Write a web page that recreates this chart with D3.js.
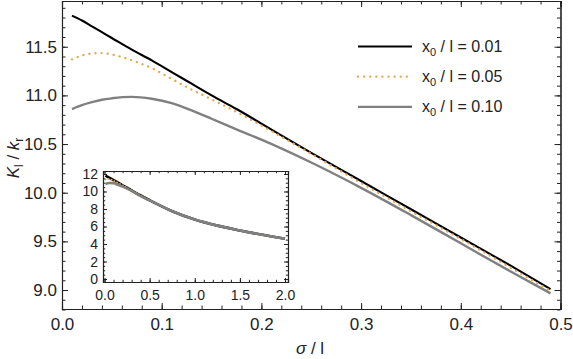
<!DOCTYPE html>
<html>
<head>
<meta charset="utf-8">
<script src="https://cdn.jsdelivr.net/npm/d3@7"></script>
<style>
  body { margin: 0; background: #fff; }
  text { font-family: "Liberation Sans", Arial, sans-serif; fill: #222; }
</style>
</head>
<body>
<script>
// main plot data (sigma / l)
const sigma = [0.01, 0.02, 0.03, 0.04, 0.05, 0.07, 0.09, 0.11, 0.13, 0.15, 0.175, 0.2, 0.25, 0.3, 0.35, 0.4, 0.45, 0.49]
const k001 = [11.82, 11.77, 11.71, 11.65, 11.59, 11.47, 11.36, 11.24, 11.12, 11.00, 10.86, 10.71, 10.41, 10.12, 9.83, 9.54, 9.25, 9.01]
const k005 = [11.37, 11.41, 11.43, 11.435, 11.42, 11.36, 11.28, 11.17, 11.06, 10.96, 10.83, 10.69, 10.40, 10.10, 9.81, 9.525, 9.23, 8.99]
const k010 = [10.86, 10.90, 10.93, 10.955, 10.97, 10.985, 10.965, 10.92, 10.845, 10.76, 10.65, 10.545, 10.31, 10.05, 9.77, 9.48, 9.19, 8.966]

// inset data
const insetSigma = [0.01, 0.05, 0.1, 0.15, 0.2, 0.3, 0.4, 0.5, 0.75, 1.0, 1.25, 1.5, 1.75, 2.0]
const inset001 = [11.82, 11.59, 11.30, 11.00, 10.71, 10.12, 9.54, 9.0, 7.75, 6.8, 6.1, 5.55, 5.05, 4.6]
const inset005 = [11.37, 11.42, 11.21, 10.96, 10.69, 10.10, 9.525, 9.0, 7.75, 6.8, 6.1, 5.55, 5.05, 4.6]
const inset010 = [10.86, 10.97, 10.95, 10.76, 10.55, 10.06, 9.48, 8.98, 7.75, 6.8, 6.1, 5.55, 5.05, 4.6]

const xTicks = [0.0, 0.1, 0.2, 0.3, 0.4, 0.5]
const yTicks = [9.0, 9.5, 10.0, 10.5, 11.0, 11.5]
const insetXTicks = [0.0, 0.5, 1.0, 1.5, 2.0]
const insetYTicks = [0, 2, 4, 6, 8, 10, 12]
const legendLabels = ['0.01', '0.05', '0.10']

const width = 573
const height = 359
const margin = ({ top: 1, right: 12.5, left: 62, bottom: 50 })

const svg = d3.select('body')
    .append('svg')
    .attr('width', width)
    .attr('height', height)

const x = d3.scaleLinear()
    .domain([0, 0.5])
    .range([margin.left, width - margin.right])
const y = d3.scaleLinear()
    .domain([8.805, 11.97])
    .range([height - margin.bottom, margin.top])

const seriesStyle = [
    { data: k001, ins: inset001, color: '#000', width: 2.1, dash: null },
    { data: k005, ins: inset005, color: '#e2a94e', width: 2.3, dash: '0.1,6' },
    { data: k010, ins: inset010, color: '#808080', width: 2.4, dash: null }
]

const range = (a, b, step) => d3.range(Math.round((b - a) / step) + 1).map(i => +(a + i * step).toFixed(4))

const drawFrame = (g, xs, ys, xMaj, yMaj, xMin, yMin, fmtX, fmtY, major, minor, fontSize) => {
    const [x0, x1] = xs.range()
    const [y0, y1] = ys.range()
    // minor ticks on four sides
    g.append('g').attr('transform', `translate(0,${y0})`)
        .call(d3.axisBottom(xs).tickValues(xMin).tickSize(-minor).tickFormat(''))
    g.append('g').attr('transform', `translate(0,${y1})`)
        .call(d3.axisTop(xs).tickValues(xMin).tickSize(-minor).tickFormat(''))
    g.append('g').attr('transform', `translate(${x0},0)`)
        .call(d3.axisLeft(ys).tickValues(yMin).tickSize(-minor).tickFormat(''))
    g.append('g').attr('transform', `translate(${x1},0)`)
        .call(d3.axisRight(ys).tickValues(yMin).tickSize(-minor).tickFormat(''))
    // major ticks
    g.append('g').attr('class', 'lab').attr('transform', `translate(0,${y0})`)
        .call(d3.axisBottom(xs).tickValues(xMaj).tickSize(-major).tickPadding(fontSize * 0.55).tickFormat(fmtX))
    g.append('g').attr('transform', `translate(0,${y1})`)
        .call(d3.axisTop(xs).tickValues(xMaj).tickSize(-major).tickFormat(''))
    g.append('g').attr('class', 'lab').attr('transform', `translate(${x0},0)`)
        .call(d3.axisLeft(ys).tickValues(yMaj).tickSize(-major).tickPadding(5).tickFormat(fmtY))
    g.append('g').attr('transform', `translate(${x1},0)`)
        .call(d3.axisRight(ys).tickValues(yMaj).tickSize(-major).tickFormat(''))
    g.selectAll('.domain').attr('stroke', '#222').attr('stroke-width', 1.1)
    g.selectAll('.tick line').attr('stroke', '#222')
    g.selectAll('.lab text').attr('font-size', fontSize).attr('fill', '#222')
        .attr('font-family', '"Liberation Sans", Arial, sans-serif')
}

// main curves
const mainLine = (vals) => d3.line()
    .curve(d3.curveMonotoneX)
    .x((d, i) => x(sigma[i]))
    .y(d => y(d))(vals)

seriesStyle.forEach(s => {
    svg.append('path')
        .attr('d', mainLine(s.data))
        .attr('fill', 'none')
        .attr('stroke', s.color)
        .attr('stroke-width', s.width)
        .attr('stroke-linecap', s.dash ? 'round' : 'butt')
        .attr('stroke-dasharray', s.dash)
})

drawFrame(svg.append('g'), x, y, xTicks, yTicks,
    range(0, 0.5, 0.02), range(8.8, 11.9, 0.1),
    d3.format('.1f'), d3.format('.1f'), 6, 3.5, 17)

// axis titles
svg.append('text')
    .attr('x', 310)
    .attr('y', 354)
    .attr('text-anchor', 'middle')
    .attr('font-size', 17)
    .html('<tspan font-style="italic">σ</tspan> / l')

svg.append('text')
    .attr('transform', 'translate(19,158) rotate(-90)')
    .attr('text-anchor', 'middle')
    .attr('font-size', 17)
    .html('<tspan font-style="italic">K</tspan><tspan font-size="12" dy="4">l</tspan><tspan dy="-4"> / </tspan><tspan font-style="italic">k</tspan><tspan font-size="12" dy="4">r</tspan>')

// legend
const legend = svg.append('g')
seriesStyle.forEach((s, i) => {
    const ly = 46.5 + i * 30.2
    legend.append('line')
        .attr('x1', 358).attr('x2', 412)
        .attr('y1', ly).attr('y2', ly)
        .attr('stroke', s.color)
        .attr('stroke-width', s.width)
        .attr('stroke-linecap', s.dash ? 'round' : 'butt')
        .attr('stroke-dasharray', s.dash)
    legend.append('text')
        .attr('x', 422)
        .attr('y', ly + 5.5)
        .attr('font-size', 16)
        .html(`x<tspan font-size="11" dy="4">0</tspan><tspan dy="-4"> / l = ${legendLabels[i]}</tspan>`)
})

// inset
const xi = d3.scaleLinear().domain([-0.017, 2.033]).range([103, 288])
const yi = d3.scaleLinear().domain([-0.34, 12.34]).range([282, 171])

svg.append('rect')
    .attr('x', 103).attr('y', 171)
    .attr('width', 185).attr('height', 111)
    .attr('fill', '#fff')

const insetLine = (vals) => d3.line()
    .curve(d3.curveMonotoneX)
    .x((d, i) => xi(insetSigma[i]))
    .y(d => yi(d))(vals)

seriesStyle.forEach(s => {
    svg.append('path')
        .attr('d', insetLine(s.ins))
        .attr('fill', 'none')
        .attr('stroke', s.color)
        .attr('stroke-width', s.dash ? 2 : 2.6)
        .attr('stroke-linecap', s.dash ? 'round' : 'butt')
        .attr('stroke-dasharray', s.dash ? '0.1,3' : null)
})

drawFrame(svg.append('g'), xi, yi, insetXTicks, insetYTicks,
    range(0, 2, 0.1), range(0, 12, 0.5),
    d3.format('.1f'), d3.format('d'), 4, 2.2, 14)
</script>
</body>
</html>
